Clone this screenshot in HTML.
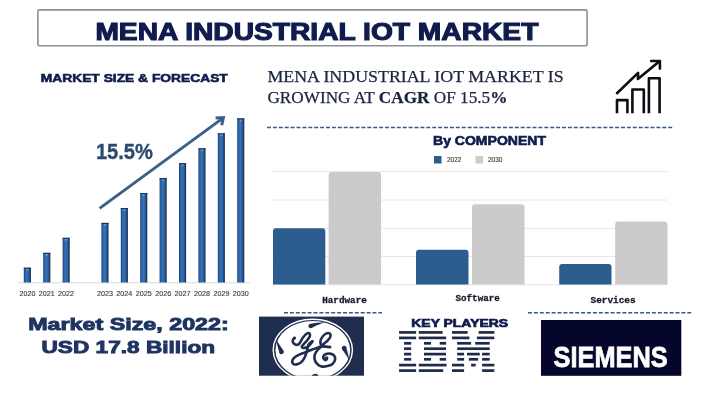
<!DOCTYPE html>
<html><head><meta charset="utf-8">
<style>
html,body{margin:0;padding:0;background:#fff;width:701px;height:405px;overflow:hidden;}
svg{display:block;}
text{font-family:"Liberation Sans",sans-serif;}
.serif{font-family:"Liberation Serif",serif;}
.mono{font-family:"Liberation Mono",monospace;}
</style></head>
<body>
<svg style="will-change:transform" width="701" height="405" viewBox="0 0 701 405">
<defs>
<linearGradient id="barg" x1="0" x2="1" y1="0" y2="0">
<stop offset="0" stop-color="#1b3a68"/>
<stop offset="0.15" stop-color="#2a5e9f"/>
<stop offset="0.45" stop-color="#3472b9"/>
<stop offset="0.72" stop-color="#2b5e9d"/>
<stop offset="0.86" stop-color="#1d3e6e"/>
<stop offset="1" stop-color="#12284a"/>
</linearGradient>
</defs>
<!-- Title box -->
<rect x="37.9" y="9.9" width="549.2" height="35.8" rx="1.5" fill="#fff" stroke="#8d8f95" stroke-width="1.6"/>
<text x="95.4" y="39.5" font-size="23.3" font-weight="bold" fill="#0f1c4d" stroke="#0f1c4d" stroke-width="1.1" textLength="443" lengthAdjust="spacingAndGlyphs">MENA INDUSTRIAL IOT MARKET</text>

<!-- left subtitle -->
<text x="40.8" y="81.5" font-size="11.6" font-weight="bold" fill="#0f1c4d" stroke="#0f1c4d" stroke-width="0.6" textLength="187" lengthAdjust="spacingAndGlyphs">MARKET SIZE &amp; FORECAST</text>

<!-- headline serif -->
<text class="serif" x="267.4" y="81.9" font-size="16.7" fill="#1a2340" stroke="#1a2340" stroke-width="0.25" textLength="296.2" lengthAdjust="spacingAndGlyphs">MENA INDUSTRIAL IOT MARKET IS</text>
<text class="serif" x="267.4" y="103.2" font-size="16.7" fill="#1a2340" stroke="#1a2340" stroke-width="0.25" textLength="240" lengthAdjust="spacingAndGlyphs">GROWING AT <tspan font-weight="bold">CAGR</tspan> OF 15.5<tspan font-weight="bold">%</tspan></text>

<!-- growth icon -->
<g fill="none" stroke="#0d0d14" stroke-width="2.6" stroke-linejoin="round">
<path d="M617 113.2 V100.1 H627.4 V113.2"/>
<path d="M632.4 113.2 V89.5 H643.8 V113.2"/>
<path d="M648.9 113.2 V78.3 H659.6 V113.2"/>
<path d="M617 93.2 L638.1 72.9 L637.9 79 L659.2 61.5" stroke-linecap="round" stroke-linejoin="round"/>
<path d="M651.2 61 H659.9 V68.6" stroke-linecap="round"/>
</g>

<!-- dashed top line -->
<line x1="267" y1="127.5" x2="674" y2="127.5" stroke="#3b5a80" stroke-width="1.6" stroke-dasharray="4 1.9"/>

<!-- By COMPONENT -->
<text x="433" y="145.2" font-size="12.3" font-weight="bold" fill="#0f1c4d" stroke="#0f1c4d" stroke-width="0.6" textLength="113" lengthAdjust="spacingAndGlyphs">By COMPONENT</text>
<rect x="434" y="156" width="7.5" height="7.5" fill="#2e5c8c"/>
<text x="447" y="162" font-size="6.8" fill="#383838" stroke="#383838" stroke-width="0.12" textLength="14.5" lengthAdjust="spacingAndGlyphs">2022</text>
<rect x="475.5" y="156" width="7.5" height="7.5" fill="#cccccc"/>
<text x="488" y="162" font-size="6.8" fill="#383838" stroke="#383838" stroke-width="0.12" textLength="14.5" lengthAdjust="spacingAndGlyphs">2030</text>

<!-- grid -->
<g stroke="#e6e6e6" stroke-width="1">
<line x1="272" y1="171.5" x2="667.5" y2="171.5"/>
<line x1="272" y1="200" x2="667.5" y2="200"/>
<line x1="272" y1="228.5" x2="667.5" y2="228.5"/>
<line x1="272" y1="256.5" x2="667.5" y2="256.5"/>
<line x1="272" y1="284.8" x2="667.5" y2="284.8"/>
</g>
<!-- component bars -->
<g>
<path d="M273 284.6 V231.2 a3 3 0 0 1 3 -3 H322.3 a3 3 0 0 1 3 3 V284.6 Z" fill="#2b5d8f"/>
<path d="M328.6 284.6 V174.9 a3 3 0 0 1 3 -3 H378.0 a3 3 0 0 1 3 3 V284.6 Z" fill="#cbcbcb"/>
<path d="M416 284.6 V252.8 a3 3 0 0 1 3 -3 H465.5 a3 3 0 0 1 3 3 V284.6 Z" fill="#2b5d8f"/>
<path d="M472 284.6 V207.2 a3 3 0 0 1 3 -3 H521.5 a3 3 0 0 1 3 3 V284.6 Z" fill="#cbcbcb"/>
<path d="M559.2 284.6 V267.0 a3 3 0 0 1 3 -3 H608.5 a3 3 0 0 1 3 3 V284.6 Z" fill="#2b5d8f"/>
<path d="M615.2 284.6 V224.4 a3 3 0 0 1 3 -3 H664.5 a3 3 0 0 1 3 3 V284.6 Z" fill="#cbcbcb"/>
</g>
<text class="mono" x="322.2" y="302.5" font-size="9.6" font-weight="bold" fill="#1a1a2a" stroke="#1a1a2a" stroke-width="0.3" textLength="44.6" lengthAdjust="spacingAndGlyphs">Hardware</text>
<text class="mono" x="455.5" y="301.4" font-size="9.6" font-weight="bold" fill="#1a1a2a" stroke="#1a1a2a" stroke-width="0.3" textLength="44.3" lengthAdjust="spacingAndGlyphs">Software</text>
<text class="mono" x="590.5" y="303" font-size="9.6" font-weight="bold" fill="#1a1a2a" stroke="#1a1a2a" stroke-width="0.3" textLength="45.1" lengthAdjust="spacingAndGlyphs">Services</text>

<!-- left chart -->
<line x1="18" y1="282.8" x2="250" y2="282.8" stroke="#d9d9d9" stroke-width="1"/>
<g id="lbars">
<rect x="23.8" y="267.7" width="7.1" height="14.8" fill="url(#barg)"/>
<rect x="23.8" y="267.7" width="7.1" height="1.1" fill="#1a3358"/>
<path d="M25.6 269.0 h3.4 l-1.7 2.2z" fill="#6ea6e6" opacity="0.8"/>
<rect x="43.2" y="252.8" width="7.1" height="29.7" fill="url(#barg)"/>
<rect x="43.2" y="252.8" width="7.1" height="1.1" fill="#1a3358"/>
<path d="M45.0 254.1 h3.4 l-1.7 2.2z" fill="#6ea6e6" opacity="0.8"/>
<rect x="62.6" y="237.8" width="7.1" height="44.7" fill="url(#barg)"/>
<rect x="62.6" y="237.8" width="7.1" height="1.1" fill="#1a3358"/>
<path d="M64.4 239.1 h3.4 l-1.7 2.2z" fill="#6ea6e6" opacity="0.8"/>
<rect x="101.4" y="222.9" width="7.1" height="59.6" fill="url(#barg)"/>
<rect x="101.4" y="222.9" width="7.1" height="1.1" fill="#1a3358"/>
<path d="M103.2 224.2 h3.4 l-1.7 2.2z" fill="#6ea6e6" opacity="0.8"/>
<rect x="120.8" y="208.0" width="7.1" height="74.5" fill="url(#barg)"/>
<rect x="120.8" y="208.0" width="7.1" height="1.1" fill="#1a3358"/>
<path d="M122.6 209.3 h3.4 l-1.7 2.2z" fill="#6ea6e6" opacity="0.8"/>
<rect x="140.2" y="193.0" width="7.1" height="89.5" fill="url(#barg)"/>
<rect x="140.2" y="193.0" width="7.1" height="1.1" fill="#1a3358"/>
<path d="M142.0 194.3 h3.4 l-1.7 2.2z" fill="#6ea6e6" opacity="0.8"/>
<rect x="159.6" y="178.1" width="7.1" height="104.4" fill="url(#barg)"/>
<rect x="159.6" y="178.1" width="7.1" height="1.1" fill="#1a3358"/>
<path d="M161.4 179.4 h3.4 l-1.7 2.2z" fill="#6ea6e6" opacity="0.8"/>
<rect x="179.0" y="163.2" width="7.1" height="119.3" fill="url(#barg)"/>
<rect x="179.0" y="163.2" width="7.1" height="1.1" fill="#1a3358"/>
<path d="M180.8 164.5 h3.4 l-1.7 2.2z" fill="#6ea6e6" opacity="0.8"/>
<rect x="198.4" y="148.3" width="7.1" height="134.2" fill="url(#barg)"/>
<rect x="198.4" y="148.3" width="7.1" height="1.1" fill="#1a3358"/>
<path d="M200.2 149.6 h3.4 l-1.7 2.2z" fill="#6ea6e6" opacity="0.8"/>
<rect x="217.8" y="133.3" width="7.1" height="149.2" fill="url(#barg)"/>
<rect x="217.8" y="133.3" width="7.1" height="1.1" fill="#1a3358"/>
<path d="M219.6 134.6 h3.4 l-1.7 2.2z" fill="#6ea6e6" opacity="0.8"/>
<rect x="237.2" y="118.4" width="7.1" height="164.1" fill="url(#barg)"/>
<rect x="237.2" y="118.4" width="7.1" height="1.1" fill="#1a3358"/>
<path d="M239.0 119.7 h3.4 l-1.7 2.2z" fill="#6ea6e6" opacity="0.8"/>
</g>
<g id="lyears" font-size="7.7" fill="#383838" stroke="#383838" stroke-width="0.12">
<text x="19.4" y="295.9" textLength="16" lengthAdjust="spacingAndGlyphs">2020</text>
<text x="38.7" y="295.9" textLength="16" lengthAdjust="spacingAndGlyphs">2021</text>
<text x="58.1" y="295.9" textLength="16" lengthAdjust="spacingAndGlyphs">2022</text>
<text x="96.9" y="295.9" textLength="16" lengthAdjust="spacingAndGlyphs">2023</text>
<text x="116.3" y="295.9" textLength="16" lengthAdjust="spacingAndGlyphs">2024</text>
<text x="135.8" y="295.9" textLength="16" lengthAdjust="spacingAndGlyphs">2025</text>
<text x="155.2" y="295.9" textLength="16" lengthAdjust="spacingAndGlyphs">2026</text>
<text x="174.6" y="295.9" textLength="16" lengthAdjust="spacingAndGlyphs">2027</text>
<text x="194.0" y="295.9" textLength="16" lengthAdjust="spacingAndGlyphs">2028</text>
<text x="213.4" y="295.9" textLength="16" lengthAdjust="spacingAndGlyphs">2029</text>
<text x="232.8" y="295.9" textLength="16" lengthAdjust="spacingAndGlyphs">2030</text>
</g>

<!-- arrow -->
<g stroke="#3b6189" stroke-width="3" fill="none" stroke-linecap="butt">
<line x1="99.6" y1="208.4" x2="222.2" y2="118.6"/>
<path d="M215.6 117.9 L223.4 117.5 L221.7 125.2" stroke-linejoin="miter"/>
</g>
<text x="95.9" y="158.8" font-size="21.3" font-weight="bold" fill="#2b4a70" stroke="#2b4a70" stroke-width="0.35" textLength="57" lengthAdjust="spacingAndGlyphs">15.5%</text>

<!-- market size -->
<text x="28.2" y="329.7" font-size="17.2" font-weight="bold" fill="#1f3461" stroke="#1f3461" stroke-width="0.9" textLength="200.6" lengthAdjust="spacingAndGlyphs">Market Size, 2022:</text>
<text x="41.5" y="353.1" font-size="17.2" font-weight="bold" fill="#1f3461" stroke="#1f3461" stroke-width="0.9" textLength="173.6" lengthAdjust="spacingAndGlyphs">USD 17.8 Billion</text>

<!-- bottom dashed lines -->
<line x1="284" y1="312.7" x2="382" y2="312.7" stroke="#3b5a80" stroke-width="1.5" stroke-dasharray="4 1.9"/>
<line x1="528" y1="312.7" x2="691.5" y2="312.7" stroke="#3b5a80" stroke-width="1.5" stroke-dasharray="4 1.9"/>

<!-- GE -->
<rect x="259" y="316.6" width="105" height="59.1" fill="#1f2d4e"/>
<g id="ge">
<clipPath id="geclip"><rect x="259" y="316.6" width="105" height="59.1"/></clipPath>
<g clip-path="url(#geclip)">
<ellipse cx="312.8" cy="350" rx="39.6" ry="30.8" fill="none" stroke="#fff" stroke-width="1.4"/>
<ellipse cx="312.8" cy="350" rx="37.4" ry="29" fill="#fff"/>
<path d="M326 322.3 C320 322.4, 314 323, 310.6 323.8 A2.5 2.2 0 1 0 312.6 327.6 C316 325.6, 320.5 323.6, 326 322.3 Z" fill="#1f2d4e"/>
<path d="M276.3 339.5 C277 344.8, 278.2 348.6, 279 351 A2.5 2.5 0 1 0 283.5 350.4 C281.5 347.8, 279 344.5, 276.3 339.5 Z" fill="#1f2d4e"/>
<path d="M349.3 360.5 C348.6 355.2, 347.4 351.4, 346.6 349 A2.5 2.5 0 1 0 342.1 349.6 C344.1 352.2, 346.6 355.5, 349.3 360.5 Z" fill="#1f2d4e"/>
<path d="M311.5 376 C312.5 374.5, 314.5 373.6, 316.5 373.8 C317.5 374.3, 318.2 375, 318.6 376 Z" fill="#1f2d4e"/>
<g fill="none" stroke="#1f2d4e" stroke-width="2.6" stroke-linecap="round" stroke-linejoin="round">
<path d="M294.6 337.8 C294.4 338.1 293.4 338.8 293.1 339.5 C292.8 340.2 292.7 341.1 292.8 341.8 C292.9 342.5 293.4 343.3 294.0 343.8 C294.6 344.3 295.8 344.9 296.6 344.9 C297.4 344.9 298.3 344.6 299.0 344.0 C299.7 343.4 300.1 342.3 300.8 341.2 C301.5 340.1 302.2 338.7 303.0 337.6 C303.8 336.5 304.9 335.2 305.8 334.4 C306.7 333.6 307.6 333.0 308.3 333.0 C309.0 333.0 309.7 333.6 309.9 334.2 C310.1 334.8 310.0 335.8 309.6 336.8 C309.2 337.8 308.3 338.9 307.4 340.0 C306.5 341.1 305.1 342.5 304.2 343.6 C303.3 344.7 302.0 345.7 301.8 346.4 C301.6 347.1 302.3 347.7 303.0 347.9 C303.7 348.1 305.0 347.9 306.0 347.5 C307.0 347.1 308.1 346.4 309.0 345.6 C309.9 344.9 310.8 343.7 311.4 343.0 C312.0 342.3 312.2 341.6 312.4 341.3"/>
<path d="M312.4 341.3 C312.0 341.6 310.9 342.2 310.3 342.8 C309.7 343.4 309.1 343.7 308.6 344.6 C308.2 345.5 308.0 346.7 307.6 348.1 C307.2 349.5 306.9 351.2 306.4 352.9 C305.8 354.6 305.1 356.7 304.3 358.2 C303.5 359.7 302.4 361.1 301.3 362.1 C300.2 363.1 299.1 363.7 297.9 364.1 C296.7 364.5 295.2 364.7 294.3 364.4 C293.4 364.1 292.5 363.2 292.3 362.4 C292.1 361.6 292.3 360.4 292.9 359.4 C293.5 358.4 294.5 357.4 295.8 356.5 C297.1 355.6 299.2 354.7 300.5 354.1 C301.8 353.5 302.3 353.5 303.8 352.9 C305.3 352.3 307.7 351.2 309.7 350.5 C311.7 349.8 313.8 349.1 315.7 348.4 C317.6 347.7 320.4 346.6 321.4 346.2"/>
<path d="M321.4 346.2 C321.2 345.4 320.2 342.9 320.4 341.4 C320.6 339.8 321.6 338.1 322.4 336.9 C323.2 335.7 324.3 334.6 325.3 334.0 C326.3 333.4 327.5 333.0 328.3 333.0 C329.1 333.0 330.0 333.4 330.3 334.0 C330.6 334.6 330.7 335.8 330.3 336.9 C329.9 338.0 328.8 339.3 327.8 340.4 C326.8 341.5 325.4 342.4 324.4 343.3 C323.4 344.2 322.4 345.4 322.0 345.8"/>
<path d="M321.8 346.4 C322.5 346.4 324.6 346.5 326.0 346.6 C327.4 346.7 329.5 347.0 330.2 347.1"/>
<path d="M321.6 346.0 C321.0 346.6 318.9 348.4 317.8 349.8 C316.7 351.2 315.4 352.7 314.9 354.3 C314.4 355.9 314.2 357.8 314.6 359.4 C315.0 361.0 315.9 362.7 317.1 363.9 C318.3 365.1 319.9 366.1 321.6 366.5 C323.3 366.9 325.6 366.5 327.4 366.1 C329.2 365.7 331.2 365.0 332.5 363.9 C333.8 362.8 334.9 360.8 335.1 359.4 C335.3 357.9 334.7 356.2 333.8 355.2 C332.9 354.2 331.4 353.8 330.0 353.6 C328.6 353.5 326.6 353.8 325.5 354.3 C324.4 354.8 323.4 356.0 323.2 356.8 C323.0 357.6 323.7 358.9 324.2 359.4 C324.7 359.9 325.9 360.0 326.4 359.7 C326.9 359.4 327.0 358.1 327.1 357.8"/>
<circle cx="326" cy="358.2" r="1.6" fill="#1f2d4e" stroke="none"/>
<circle cx="294.4" cy="338.2" r="1.4" fill="#1f2d4e" stroke="none"/>
</g>
</g>
</g>

<!-- KEY PLAYERS -->
<text x="411.3" y="326.6" font-size="11.1" font-weight="bold" fill="#0f1c4d" stroke="#0f1c4d" stroke-width="0.7" textLength="96.8" lengthAdjust="spacingAndGlyphs">KEY PLAYERS</text>
<g id="ibm" fill="#1e2a4a">
<rect x="399.1" y="331.05" width="17.0" height="2.7"/>
<rect x="418.8" y="331.05" width="23.8" height="2.7"/>
<rect x="452.0" y="331.05" width="15.6" height="2.7"/>
<rect x="478.6" y="331.05" width="15.7" height="2.7"/>
<rect x="399.1" y="336.55" width="17.0" height="2.7"/>
<rect x="418.8" y="336.55" width="27.3" height="2.7"/>
<rect x="452.0" y="336.55" width="17.4" height="2.7"/>
<rect x="476.9" y="336.55" width="17.4" height="2.7"/>
<rect x="404.1" y="341.95" width="7.1" height="2.7"/>
<rect x="424.0" y="341.95" width="7.0" height="2.7"/>
<rect x="439.7" y="341.95" width="6.4" height="2.7"/>
<rect x="457.2" y="341.95" width="13.9" height="2.7"/>
<rect x="475.2" y="341.95" width="14.5" height="2.7"/>
<rect x="404.1" y="347.35" width="7.1" height="2.7"/>
<rect x="424.0" y="347.35" width="22.0" height="2.7"/>
<rect x="457.2" y="347.35" width="32.5" height="2.7"/>
<rect x="404.1" y="352.75" width="7.1" height="2.7"/>
<rect x="424.0" y="352.75" width="22.0" height="2.7"/>
<rect x="457.2" y="352.75" width="6.9" height="2.7"/>
<rect x="467.0" y="352.75" width="12.8" height="2.7"/>
<rect x="482.1" y="352.75" width="7.6" height="2.7"/>
<rect x="404.1" y="357.95" width="7.1" height="2.7"/>
<rect x="424.0" y="357.95" width="7.0" height="2.7"/>
<rect x="439.7" y="357.95" width="6.4" height="2.7"/>
<rect x="457.2" y="357.95" width="6.9" height="2.7"/>
<rect x="468.8" y="357.95" width="9.3" height="2.7"/>
<rect x="482.1" y="357.95" width="7.6" height="2.7"/>
<rect x="399.1" y="363.75" width="17.0" height="2.7"/>
<rect x="418.8" y="363.75" width="27.8" height="2.7"/>
<rect x="452.0" y="363.75" width="12.1" height="2.7"/>
<rect x="471.1" y="363.75" width="4.6" height="2.7"/>
<rect x="482.1" y="363.75" width="12.2" height="2.7"/>
<rect x="399.1" y="369.25" width="17.0" height="2.7"/>
<rect x="418.8" y="369.25" width="24.4" height="2.7"/>
<rect x="452.0" y="369.25" width="12.1" height="2.7"/>
<rect x="482.1" y="369.25" width="12.2" height="2.7"/>
</g>

<!-- SIEMENS -->
<rect x="541" y="320" width="140.3" height="55.8" fill="#05062b"/>
<text x="553.6" y="367.2" font-size="29.8" font-weight="bold" fill="#fff" stroke="#fff" stroke-width="0.8" textLength="114" lengthAdjust="spacingAndGlyphs">SIEMENS</text>
</svg>
</body></html>
